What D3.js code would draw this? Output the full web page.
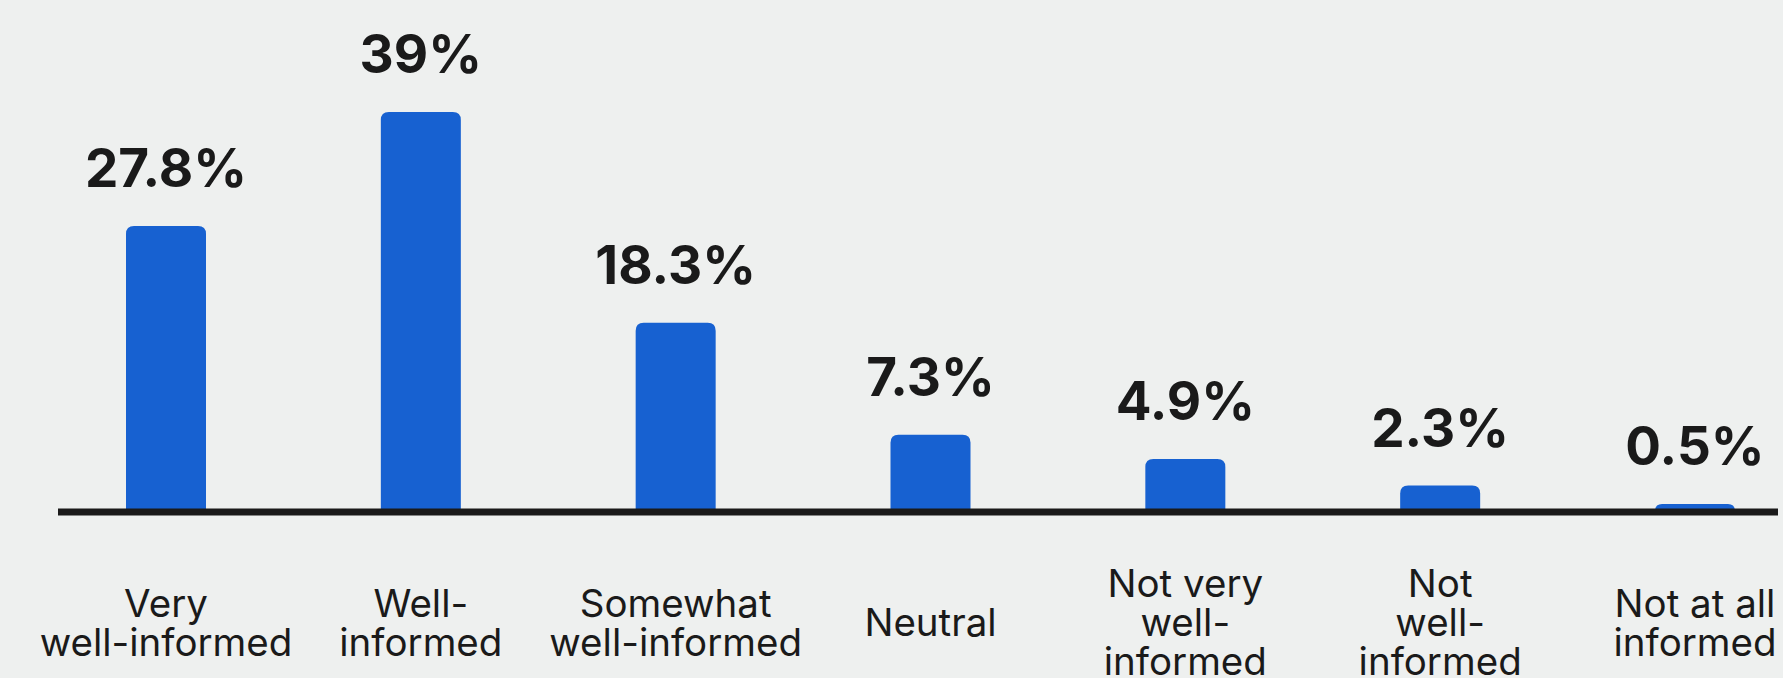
<!DOCTYPE html>
<html>
<head>
<meta charset="utf-8">
<script src="https://cdn.jsdelivr.net/npm/d3@7"></script>
<style>
  html, body { margin: 0; padding: 0; background: #eef0ef; }
  svg { display: block; }
</style>
</head>
<body>
<svg id="chart" width="1783" height="678"></svg>
<script>
// ---- data ----
const categories = [
  "Very well-informed",
  "Well-informed",
  "Somewhat well-informed",
  "Neutral",
  "Not very well-informed",
  "Not well-informed",
  "Not at all informed"
];
const labelLines = [
  ["Very", "well-informed"],
  ["Well-", "informed"],
  ["Somewhat", "well-informed"],
  ["Neutral"],
  ["Not very", "well-", "informed"],
  ["Not", "well-", "informed"],
  ["Not at all", "informed"]
];
const values = [27.8, 39, 18.3, 7.3, 4.9, 2.3, 0.5];
const valueLabels = ["27.8%", "39%", "18.3%", "7.3%", "4.9%", "2.3%", "0.5%"];

// ---- layout ----
const W = 1783, H = 678;
const svg = d3.select("#chart");
svg.append("rect").attr("width", W).attr("height", H).attr("fill", "#eef0ef");

const x = d3.scalePoint().domain(categories).range([166, 1695]);
const y = d3.scaleLinear().domain([0, d3.max(values)]).range([509, 112]);
const barW = 80, r = 8;

const data = categories.map((c, i) => ({ c, v: values[i], lab: valueLabels[i], lines: labelLines[i] }));

function barPath(d) {
  const x0 = x(d.c) - barW / 2, x1 = x(d.c) + barW / 2;
  const yt = y(d.v), yb = y(0) + 2;
  const rr = Math.min(r, (yb - yt));
  return `M${x0},${yb} L${x0},${yt + rr} Q${x0},${yt} ${x0 + rr},${yt} L${x1 - rr},${yt} Q${x1},${yt} ${x1},${yt + rr} L${x1},${yb} Z`;
}

svg.append("g").selectAll("path").data(data).join("path")
  .attr("d", barPath)
  .attr("fill", "#1761d1");

// baseline
svg.append("line")
  .attr("x1", 58).attr("x2", 1778)
  .attr("y1", y(0) + 3).attr("y2", y(0) + 3)
  .attr("stroke", "#1a1a1a").attr("stroke-width", 7);

// value labels
svg.append("g").selectAll("text").data(data).join("text")
  .attr("x", d => x(d.c))
  .attr("y", d => y(d.v) - 39)
  .attr("text-anchor", "middle")
  .attr("font-family", "Inter, 'Liberation Sans', sans-serif")
  .attr("font-weight", 700)
  .attr("font-size", 53)
  .attr("fill", "#1a1a1a")
  .text(d => d.lab);

// category labels
const lineH = 39, midBase = 636;
const cat = svg.append("g").selectAll("text").data(data).join("text")
  .attr("text-anchor", "middle")
  .attr("font-family", "Inter, 'Noto Sans', sans-serif")
  .attr("font-weight", 400)
  .attr("font-size", 38.5)
  .attr("fill", "#1a1a1a");
cat.each(function(d) {
  const n = d.lines.length;
  const t = d3.select(this);
  d.lines.forEach((ln, k) => {
    t.append("tspan")
      .attr("x", x(d.c))
      .attr("y", midBase + (k - (n - 1) / 2) * lineH)
      .text(ln);
  });
});
</script>
</body>
</html>
